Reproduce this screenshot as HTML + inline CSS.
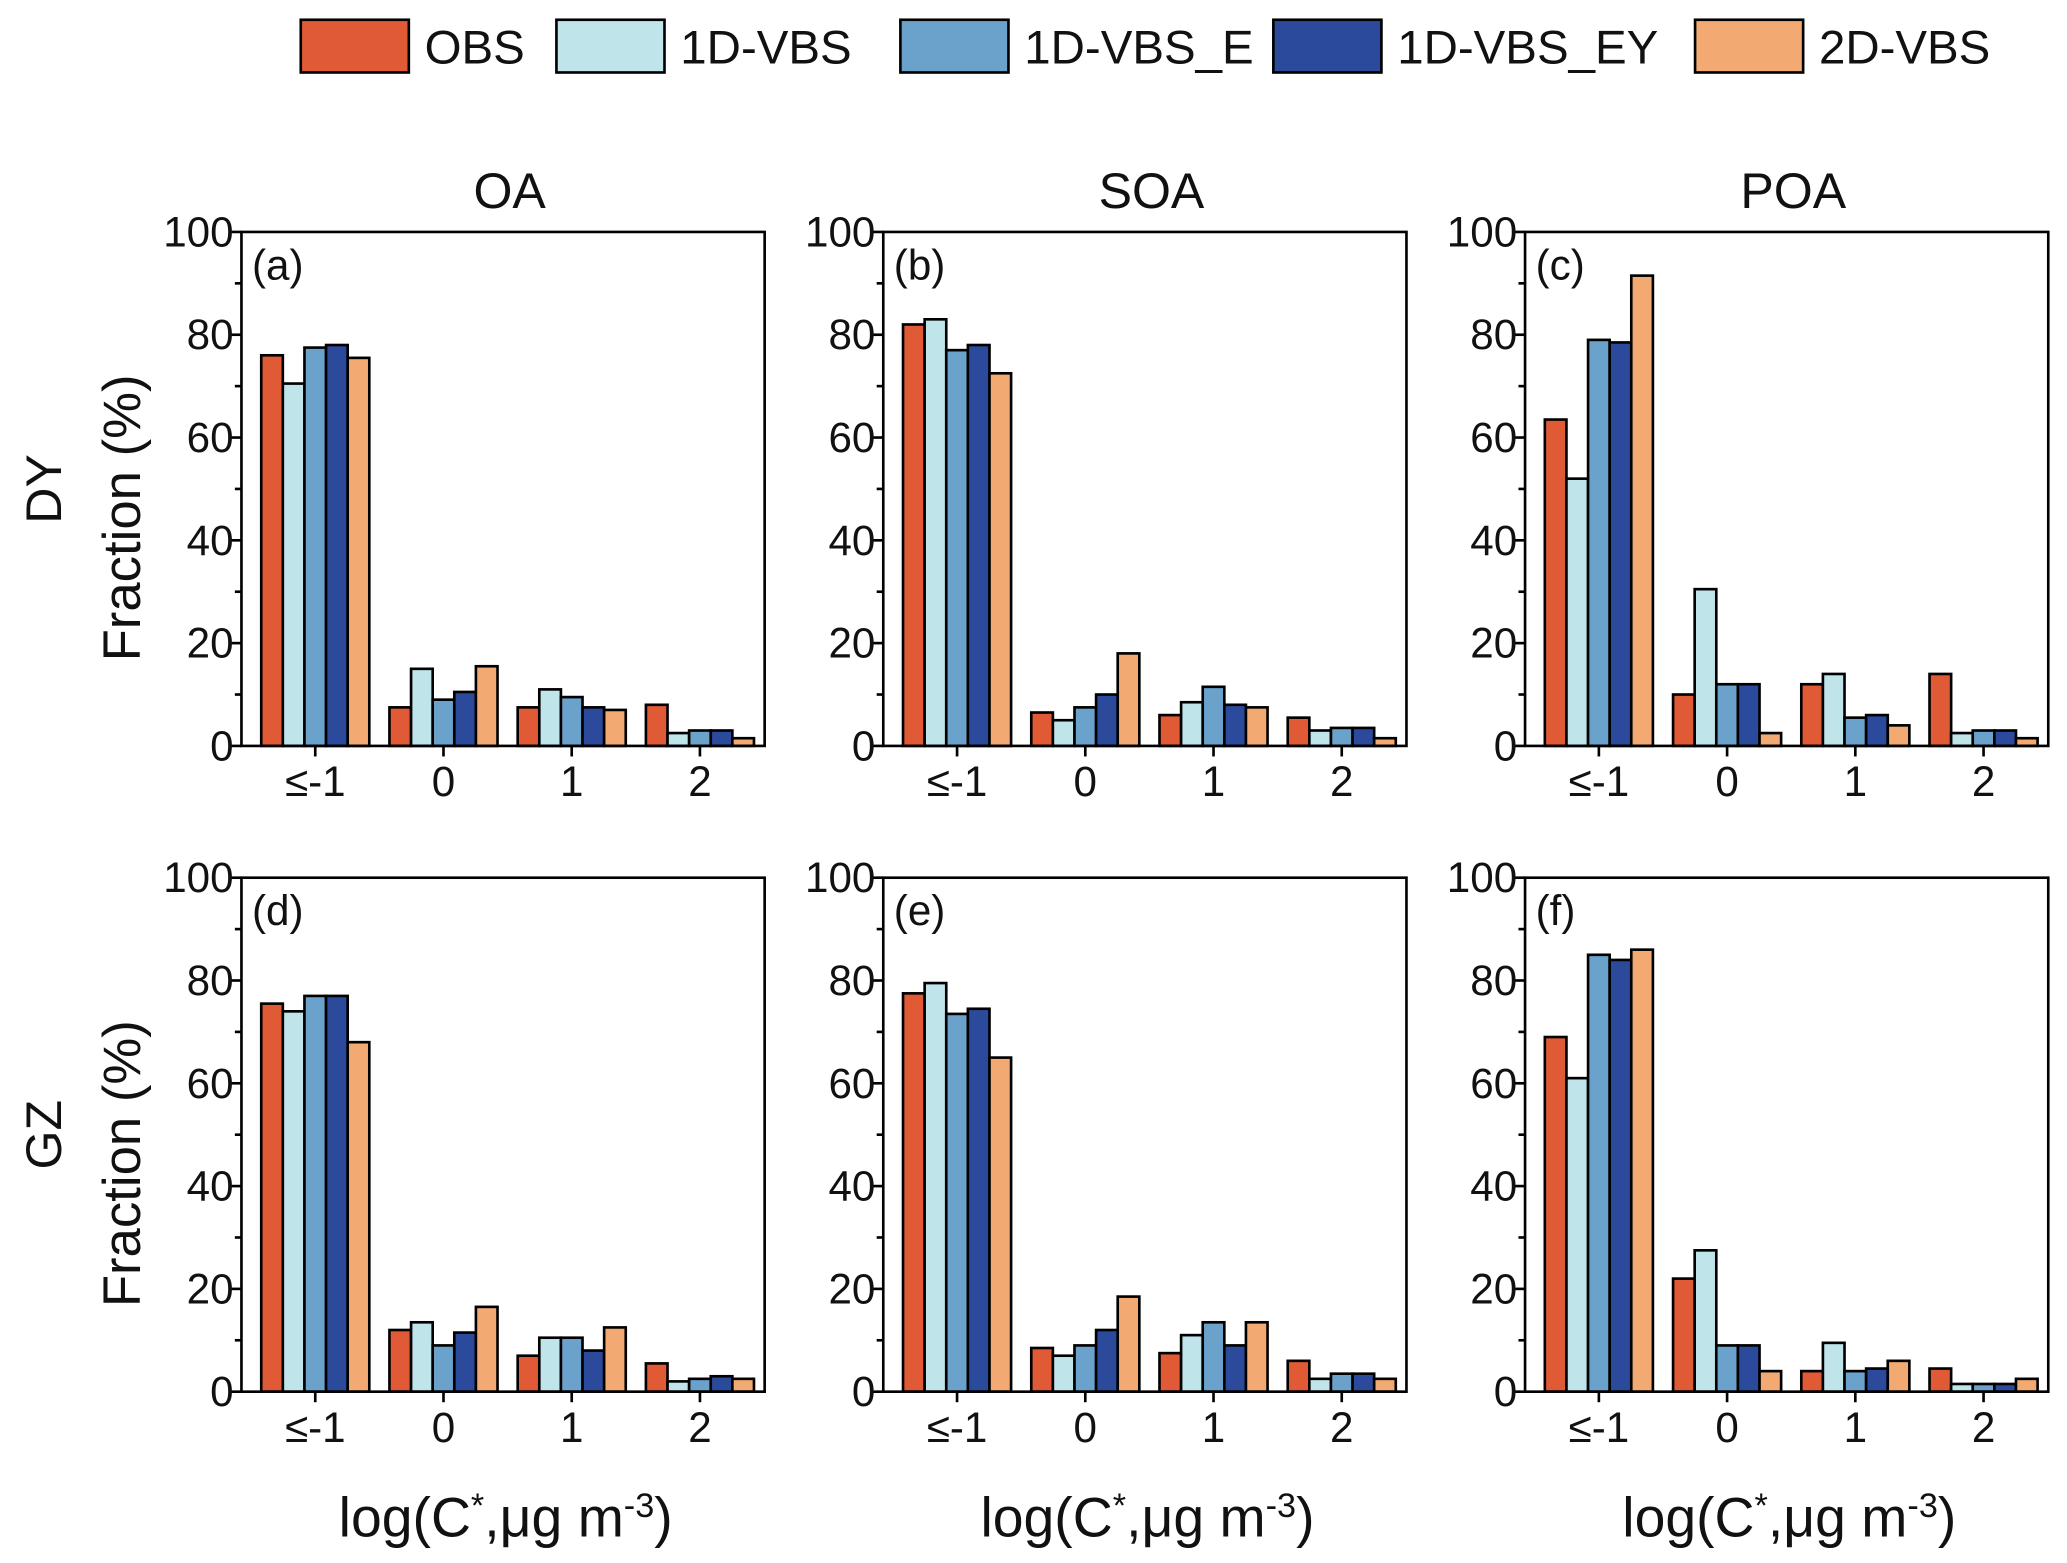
<!DOCTYPE html>
<html><head><meta charset="utf-8"><style>
html,body{margin:0;padding:0;background:#fff}
svg{display:block}
text{font-family:"Liberation Sans",Arial,sans-serif;fill:#111}
</style></head><body>
<svg id="chart" width="2067" height="1563" viewBox="0 0 1568 1186" xmlns="http://www.w3.org/2000/svg"></svg>
<script>
const series = ["OBS","1D-VBS","1D-VBS_E","1D-VBS_EY","2D-VBS"];
const colors = ["#e05a35","#bfe5ea","#6aa2cc","#2c4a9b","#f2aa72"];
const categories = ["≤-1","0","1","2"];
const yTicks = [0,20,40,60,80,100];
const panelLabels = ["(a)","(b)","(c)","(d)","(e)","(f)"];
const colTitles = ["OA","SOA","POA"];
const rowTitles = ["DY","GZ"];
const valuesA = [[76,70.5,77.5,78,75.5],[7.5,15,9,10.5,15.5],[7.5,11,9.5,7.5,7],[8,2.5,3,3,1.5]];
const valuesB = [[82,83,77,78,72.5],[6.5,5,7.5,10,18],[6,8.5,11.5,8,7.5],[5.5,3,3.5,3.5,1.5]];
const valuesC = [[63.5,52,79,78.5,91.5],[10,30.5,12,12,2.5],[12,14,5.5,6,4],[14,2.5,3,3,1.5]];
const valuesD = [[75.5,74,77,77,68],[12,13.5,9,11.5,16.5],[7,10.5,10.5,8,12.5],[5.5,2,2.5,3,2.5]];
const valuesE = [[77.5,79.5,73.5,74.5,65],[8.5,7,9,12,18.5],[7.5,11,13.5,9,13.5],[6,2.5,3.5,3.5,2.5]];
const valuesF = [[69,61,85,84,86],[22,27.5,9,9,4],[4,9.5,4,4.5,6],[4.5,1.5,1.5,1.5,2.5]];
const allValues = [valuesA,valuesB,valuesC,valuesD,valuesE,valuesF];

const NS="http://www.w3.org/2000/svg";
const svg=document.getElementById('chart');
function mk(tag,attrs,parent,txt){const e=document.createElementNS(NS,tag);for(const k in attrs)e.setAttribute(k,attrs[k]);if(txt!==undefined)e.textContent=txt;(parent||svg).appendChild(e);return e;}

const legX=[228,422,683,966,1286];
series.forEach((s,i)=>{
  const g=mk('g',{});
  
  
  mk('rect',{x:legX[i],y:15,width:82,height:40,fill:colors[i],stroke:'#000','stroke-width':2},g);
  mk('text',{x:legX[i]+94,y:48,'font-size':36},g,s);
});

const lefts=[183,670,1157], tops=[176,666], W=397, H=390;
const bw=16.4;
for(let p=0;p<6;p++){
  const r=Math.floor(p/3), c=p%3;
  const L=lefts[c], T=tops[r];
  const y=v=>T+H-v/100*H;
  const x=i=>L+56+97.3*i;
  const g=mk('g',{});
  
  
  allValues[p].forEach((grp,ci)=>{
    grp.forEach((v,si)=>{
      const bx=x(ci)-2.5*bw+si*bw;
      const b=mk('rect',{x:bx,y:y(v),width:bw,height:y(0)-y(v),fill:colors[si],stroke:'#000','stroke-width':2},g);
      
      
    });
  });
  mk('rect',{x:L,y:T,width:W,height:H,fill:'none',stroke:'#000','stroke-width':2},g);
  yTicks.forEach(t=>{
    mk('line',{x1:L-8,x2:L,y1:y(t),y2:y(t),stroke:'#000','stroke-width':2},g);
    const tl=mk('text',{x:L-6,y:y(t)+11,'font-size':32,'text-anchor':'end'},g,t);
    
    
  });
  for(let t=10;t<100;t+=20) mk('line',{x1:L-5,x2:L,y1:y(t),y2:y(t),stroke:'#000','stroke-width':2},g);
  categories.forEach((cat,ci)=>{
    mk('line',{x1:x(ci),x2:x(ci),y1:T+H,y2:T+H+8,stroke:'#000','stroke-width':2},g);
    const tl=mk('text',{x:x(ci),y:T+H+38,'font-size':32,'text-anchor':'middle'},g,cat);
    
    
  });
  mk('text',{x:L+8,y:T+36,'font-size':32},g,panelLabels[p]);
}
colTitles.forEach((t,c)=>{
  const e=mk('text',{x:lefts[c]+W/2+5,y:158,'font-size':38,'text-anchor':'middle'},svg,t);
  
  
  const xl=mk('text',{x:lefts[c]+W/2+2,y:1166,'font-size':42,'text-anchor':'middle'});
  
  
  xl.innerHTML='log(C<tspan dy="-15" font-size="26">*</tspan><tspan dy="15">,μg m</tspan><tspan dy="-15" font-size="26">-3</tspan><tspan dy="15">)</tspan>';
});
rowTitles.forEach((t,r)=>{
  const cy=tops[r]+H/2;
  const e=mk('text',{x:0,y:0,'font-size':38,'text-anchor':'middle',transform:`translate(46,${cy}) rotate(-90)`},svg,t);
  
  
  const f=mk('text',{x:0,y:0,'font-size':40,'text-anchor':'middle',transform:`translate(106,${cy+22}) rotate(-90)`},svg,'Fraction (%)');
  
  
});
</script>
</body></html>
